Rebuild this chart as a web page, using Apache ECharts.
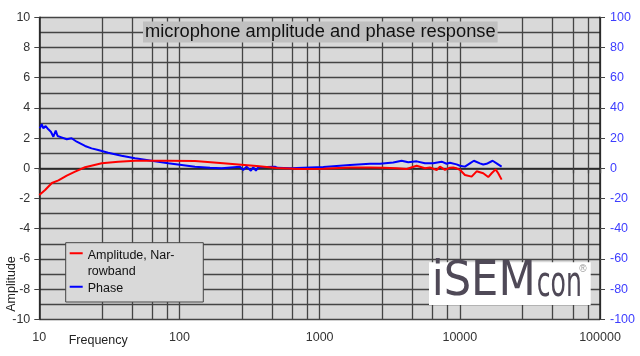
<!DOCTYPE html>
<html><head><meta charset="utf-8">
<script src="https://cdn.jsdelivr.net/npm/echarts@6/dist/echarts.min.js"></script>
<style>html,body{margin:0;padding:0;background:#fff}#c{width:640px;height:356px}</style>
</head><body><div id="c"></div>
<script>
// Amplitude (left axis, dB) vs frequency (Hz)
const ampFreq = [10, 11, 12.3, 13.7, 15.7, 18, 21.2, 27.9, 36.6, 48.2, 63.3, 83.2, 129, 205, 355, 493, 723, 1062, 1645, 2284, 2842, 3540, 4173, 4920, 5637, 6120, 6838, 7213, 7834, 8494, 8970, 9484, 10016, 10300, 10874, 11180, 12140, 13180, 14690, 15950, 16860, 18000, 18790, 19870];
const ampDb = [-1.77, -1.44, -0.97, -0.8, -0.48, -0.22, 0.07, 0.33, 0.44, 0.50, 0.50, 0.50, 0.48, 0.33, 0.15, 0.02, -0.05, -0.03, 0.05, 0.06, 0.04, 0.0, -0.05, 0.17, 0.0, 0.05, -0.11, 0.11, -0.1, 0.04, 0.05, 0.0, -0.1, -0.05, -0.44, -0.55, -0.55, -0.2, -0.33, -0.58, -0.33, -0.07, -0.33, -0.75];
// Phase (right axis, degrees) vs frequency (Hz)
const phaseFreq = [10.1, 10.4, 10.7, 11.1, 11.6, 12.1, 12.6, 13.1, 13.5, 14.4, 15.7, 17.0, 18.5, 21.2, 23.6, 26.3, 31.0, 38.6, 48.2, 63.3, 83.2, 129, 165, 200, 270, 285, 301, 323, 336, 351, 365, 480, 500, 615, 1062, 1645, 2284, 2692, 3350, 3845, 4286, 4920, 5637, 6460, 7415, 8050, 8494, 9484, 10016, 10874, 11800, 12600, 13910, 14690, 15520, 17140, 18300, 19870];
const phaseDeg = [26.5, 29.3, 26.5, 28, 25.8, 24.2, 20.9, 24.9, 21.4, 20.5, 19.2, 19.9, 17.6, 14.8, 13.2, 12.1, 10.3, 8.3, 6.6, 5.0, 3.3, 1.1, 0.3, 0.1, 1.0, -1.1, 1.1, -1.6, 0.7, -1.6, 0.7, 1.1, 0.3, 0, 0.9, 2.2, 3.0, 3.0, 3.8, 5.0, 4.0, 4.6, 3.3, 3.3, 4.4, 3.0, 3.7, 2.6, 1.7, 1.1, 3.3, 5.0, 3.3, 2.5, 3.0, 5.0, 3.3, 1.1];

// Frequency axis: labelled decades and all vertical grid/tick positions
const xLabelValues = [10, 100, 1000, 10000, 100000];
const xGridValues = [10, 28, 46, 64, 82, 100, 280, 460, 640, 820, 1000, 2800, 4600, 6400, 8200, 10000, 28000, 46000, 64000, 82000, 100000];

const titleText = 'microphone amplitude and phase response';
const ampName = 'Amplitude, Narrowband';
const phaseName = 'Phase';
const xName = 'Frequency';
const yName = 'Amplitude';

const FONT = 'Liberation Sans, Arial, sans-serif';
const GRIDC = '#444444';

const chart = echarts.init(document.getElementById('c'), null, {renderer: 'canvas'});
const zip = (xs, ys) => xs.map((x, i) => [x, ys[i]]);

chart.setOption({
  animation: false,
  backgroundColor: '#ffffff',
  textStyle: {fontFamily: FONT},
  title: {
    text: titleText, left: 143, top: 21.5, padding: [1, 2, 1, 2],
    backgroundColor: '#c0c0c0',
    textStyle: {fontSize: 18.3, fontWeight: 'normal', color: '#111', fontFamily: FONT, lineHeight: 19}
  },
  grid: {left: 39.3, right: 40, top: 17.3, bottom: 36.7, show: true, backgroundColor: '#d9d9d9', borderWidth: 0},
  legend: {
    orient: 'vertical', left: 69.7, top: 247.3, padding: 0,
    itemWidth: 13, itemHeight: 32, itemGap: -7,
    formatter: n => n === ampName ? 'Amplitude, Nar-\nrowband' : n,
    textStyle: {fontSize: 12.5, color: '#111', lineHeight: 16, fontFamily: FONT},
    data: [
      {name: ampName, icon: 'path://M0 0h.01v.01H0z M0 5h13v2H0z M0 31.99h.01v.01H0z'},
      {name: phaseName, icon: 'path://M0 0h.01v.01H0z M0 13.4h13v2H0z M0 31.99h.01v.01H0z'}
    ],
    selectedMode: false, z: 5
  },
  xAxis: {
    type: 'log', logBase: 10, min: 10, max: 100000,
    axisLine: {show: true, lineStyle: {color: '#222', width: 1.5}},
    axisTick: {show: true, length: 5, customValues: xGridValues, lineStyle: {color: GRIDC, width: 1.3}},
    splitLine: {show: true, lineStyle: {color: GRIDC, width: 1.3}},
    axisLabel: {fontSize: 12.5, color: '#333', margin: 12, fontFamily: FONT,
      customValues: xLabelValues, formatter: v => String(Math.round(v))}
  },
  yAxis: [
    {
      type: 'value', min: -10, max: 10, interval: 2, position: 'left',
      axisLine: {show: true, lineStyle: {color: '#222', width: 1.5}},
      axisTick: {show: true, length: 5, lineStyle: {color: '#444'}},
      splitLine: {show: true, lineStyle: {color: GRIDC, width: 1.3}},
      minorTick: {show: false, splitNumber: 2},
      minorSplitLine: {show: true, lineStyle: {color: GRIDC, width: 1.3}},
      axisLabel: {fontSize: 12.5, color: '#333', margin: 9, fontFamily: FONT}
    },
    {
      type: 'value', min: -100, max: 100, interval: 20, position: 'right',
      axisLine: {show: true, lineStyle: {color: '#222', width: 1.5}},
      axisTick: {show: true, length: 5, lineStyle: {color: '#444'}},
      splitLine: {show: false},
      axisLabel: {fontSize: 12.5, color: '#3d3dff', margin: 10, fontFamily: FONT}
    }
  ],
  series: [
    {
      name: ampName, type: 'line', yAxisIndex: 0, data: zip(ampFreq, ampDb),
      showSymbol: false, color: '#ff0000', lineStyle: {color: '#ff0000', width: 2}, z: 3
    },
    {
      name: phaseName, type: 'line', yAxisIndex: 1, data: zip(phaseFreq, phaseDeg),
      showSymbol: false, color: '#0000ff', lineStyle: {color: '#0000ff', width: 2}, z: 2
    }
  ],
  graphic: [
    {type: 'rect', z: 3, shape: {x: 65.7, y: 242.7, width: 137.6, height: 59.3},
     style: {fill: '#d9d9d9', stroke: '#444', lineWidth: 1}},
    {type: 'text', x: 12, y: 284, rotation: Math.PI / 2,
     style: {text: yName, fontSize: 12.5, fontFamily: FONT, fill: '#222', align: 'center', verticalAlign: 'middle'}},
    {type: 'text', x: 68.7, y: 341,
     style: {text: xName, fontSize: 12.5, fontFamily: FONT, fill: '#222', align: 'left', verticalAlign: 'middle'}},
    {type: 'rect', z: 3, shape: {x: 429, y: 262.3, width: 161.7, height: 42.7}, style: {fill: '#ffffff'}},
    {type: 'text', z: 4, x: 431.7, y: 283,
     style: {text: 'iSEM', fontSize: 48, fontFamily: 'DejaVu Sans Condensed, DejaVu Sans', fill: '#4f4957', align: 'left', verticalAlign: 'middle'}},
    {type: 'text', z: 4, x: 536.7, y: 284.5, scaleX: 0.65,
     style: {text: 'con', fontSize: 43, fontFamily: 'DejaVu Sans Condensed, DejaVu Sans', fill: '#4f4957', align: 'left', verticalAlign: 'middle'}},
    {type: 'text', z: 4, x: 583, y: 269,
     style: {text: '®', fontSize: 10, fontFamily: FONT, fill: '#999', align: 'center', verticalAlign: 'middle'}}
  ]
});
</script></body></html>
